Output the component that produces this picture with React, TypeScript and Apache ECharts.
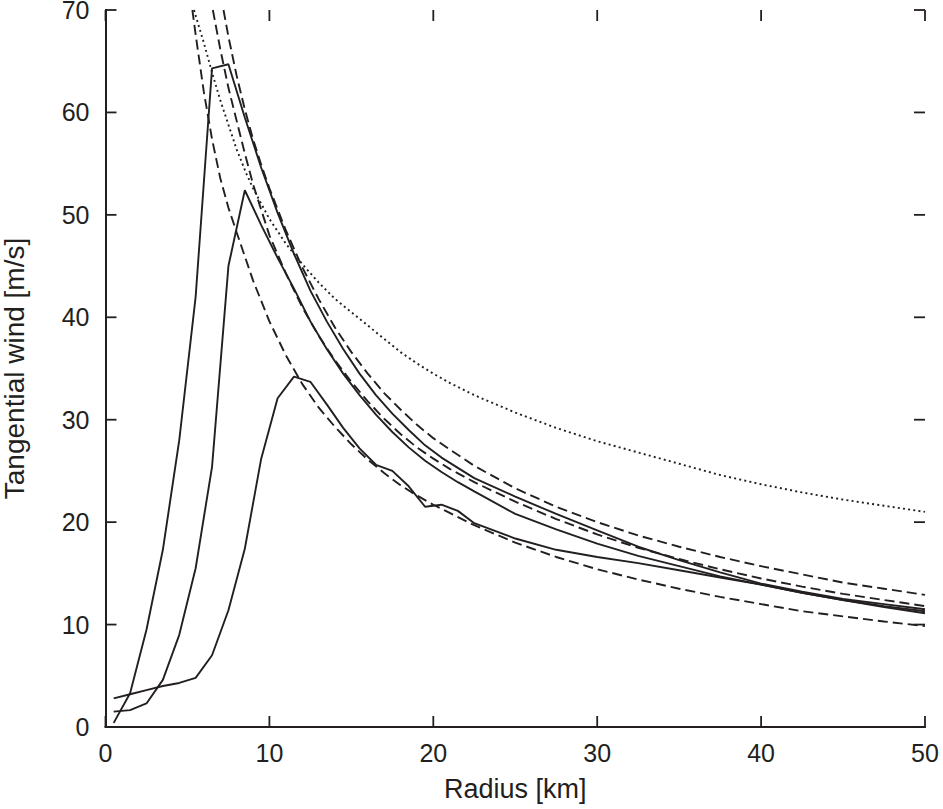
import { useEffect, useRef } from "react";
import * as echarts from "echarts";

// radius [km], tangential wind [m/s]
const simA = [
  [0.5, 0.4], [1.5, 3.3], [2.5, 9.5], [3.5, 17.3], [4.5, 28.0], [5.5, 42.0],
  [6.5, 64.3], [7.5, 64.7], [8.5, 59.5], [9.5, 54.6], [10.5, 50.2], [11.5, 46.2],
  [12.5, 42.6], [13.5, 39.6], [14.5, 36.9], [15.5, 34.5], [16.5, 32.4], [17.5, 30.6],
  [18.5, 29.0], [19.5, 27.5], [20.5, 26.3], [21.5, 25.3], [22.5, 24.3], [25, 22.5],
  [27.5, 20.8], [30, 19.2], [32.5, 17.6], [35, 16.3], [37.5, 15.1], [40, 14.0],
  [42.5, 13.2], [45, 12.5], [47.5, 12.0], [50, 11.5],
];
const simB = [
  [0.5, 1.5], [1.5, 1.65], [2.5, 2.3], [3.5, 4.6], [4.5, 9.0], [5.5, 15.5],
  [6.5, 25.4], [7.5, 45.0], [8.5, 52.4], [9.5, 49.0], [10.5, 45.8], [11.5, 42.8],
  [12.5, 39.6], [13.5, 36.9], [14.5, 34.5], [15.5, 32.4], [16.5, 30.5], [17.5, 28.8],
  [18.5, 27.3], [19.5, 26.0], [20.5, 24.9], [21.5, 23.9], [22.5, 23.0], [25, 20.8],
  [27.5, 19.3], [30, 17.9], [32.5, 16.7], [35, 15.7], [37.5, 14.7], [40, 13.9],
  [42.5, 13.1], [45, 12.4], [47.5, 11.8], [50, 11.3],
];
const simC = [
  [0.5, 2.8], [1.5, 3.2], [2.5, 3.6], [3.5, 4.0], [4.5, 4.3], [5.5, 4.8],
  [6.5, 7.0], [7.5, 11.4], [8.5, 17.4], [9.5, 26.2], [10.5, 32.1], [11.5, 34.2],
  [12.5, 33.7], [13.5, 31.5], [14.5, 29.2], [15.5, 27.2], [16.5, 25.6], [17.5, 25.0],
  [18.5, 23.5], [19.5, 21.5], [20.5, 21.7], [21.5, 21.1], [22.5, 19.9], [25, 18.4],
  [27.5, 17.3], [30, 16.6], [32.5, 16.0], [35, 15.3], [37.5, 14.6], [40, 13.9],
  [42.5, 13.1], [45, 12.4], [47.5, 11.7], [50, 11.1],
];
const fitLow = [
  [5.3, 70], [5.5, 67.6], [6, 62.0], [6.5, 57.4], [7, 53.6], [7.5, 50.7], [8, 48.3],
  [9, 43.6], [10, 39.6], [11, 36.3], [12, 33.5], [13, 31.2], [14, 29.3], [15, 27.6],
  [16, 26.1], [17, 24.8], [18, 23.6], [19, 22.6], [20, 21.7], [21, 20.9], [22.5, 19.7],
  [25, 18.0], [27.5, 16.6], [30, 15.4], [32.5, 14.4], [35, 13.5], [37.5, 12.7],
  [40, 12.0], [42.5, 11.3], [45, 10.8], [47.5, 10.3], [50, 9.85],
];
const fitMid = [
  [6.55, 70], [7, 66.2], [7.5, 62.4], [8, 59.2], [8.5, 56.0], [9, 53.0], [10, 48.0],
  [11, 44.3], [12, 41.0], [13, 38.2], [14, 35.8], [15, 33.7], [16, 31.8], [17, 30.1],
  [18, 28.6], [19, 27.3], [20, 26.2], [21, 25.2], [22.5, 23.9], [25, 22.0],
  [27.5, 20.3], [30, 18.8], [32.5, 17.5], [35, 16.4], [37.5, 15.4], [40, 14.5],
  [42.5, 13.7], [45, 13.0], [47.5, 12.4], [50, 11.8],
];
const fitHigh = [
  [7.2, 70], [7.5, 67.4], [8, 63.6], [8.5, 60.3], [9, 57.4], [9.5, 54.9], [10, 52.6],
  [11, 48.5], [12, 44.9], [13, 41.8], [14, 39.0], [15, 36.6], [16, 34.5], [17, 32.6],
  [18, 31.0], [19, 29.5], [20, 28.2], [21, 27.1], [22.5, 25.5], [25, 23.3],
  [27.5, 21.5], [30, 20.0], [32.5, 18.7], [35, 17.6], [37.5, 16.6], [40, 15.7],
  [42.5, 14.9], [45, 14.1], [47.5, 13.5], [50, 12.9],
];
const dotted = [
  [5.4, 70], [6, 66.8], [6.5, 63.9], [7, 61.2], [7.5, 58.8], [8, 56.4], [8.6, 54.0],
  [9, 52.6], [10, 49.6], [11, 47.2], [12, 45.2], [13, 43.4], [14, 41.8], [15, 40.5],
  [16, 39.2], [17, 37.9], [18, 36.6], [19, 35.5], [20, 34.5], [21, 33.6], [22.5, 32.4],
  [25, 30.7], [27.5, 29.2], [30, 27.9], [32.5, 26.8], [35, 25.7], [37.5, 24.6],
  [40, 23.7], [42.5, 22.9], [45, 22.2], [47.5, 21.6], [50, 21.0],
];

// tick positions on the frame
const xTicks = [0, 10, 20, 30, 40, 50];
const yTicks = [0, 10, 20, 30, 40, 50, 60, 70];

const INK = "#231f20";
const FONT = "Liberation Sans";
const TICK_LEN = 11;

export default function App() {
  const ref = useRef<HTMLDivElement>(null);

  useEffect(() => {
    const el = ref.current;
    if (!el) return;
    const chart = echarts.init(el, undefined, { renderer: "svg" });

    const frameLine = () => ({ show: true, lineStyle: { color: INK, width: 2 } });
    const label = { color: INK, fontSize: 25, fontFamily: FONT };
    const line = (data: number[][], type: any) => ({
      type: "line",
      data,
      showSymbol: false,
      symbol: "none",
      clip: true,
      lineStyle: { color: INK, width: type === "dotted" ? 2 : 1.9, type },
    });

    // axisTick.inside did not take, so the inward ticks are drawn here
    const tickData = [
      ...xTicks.map((v) => [0, v]),
      ...yTicks.map((v) => [1, v]),
    ];
    const tickStyle = { stroke: INK, lineWidth: 1.8 };

    chart.setOption({
      animation: false,
      backgroundColor: "#fff",
      grid: { left: 105.5, right: 18, top: 10, bottom: 82, outerBoundsMode: "none" },
      xAxis: [
        {
          type: "value",
          min: 0,
          max: 50,
          interval: 10,
          axisLine: frameLine(),
          axisTick: { show: false },
          axisLabel: { ...label, margin: 13 },
          splitLine: { show: false },
          name: "Radius [km]",
          nameLocation: "middle",
          nameGap: 48,
          nameTextStyle: { color: INK, fontSize: 27, fontFamily: FONT },
        },
        {
          type: "value",
          position: "top",
          min: 0,
          max: 50,
          interval: 10,
          axisLine: frameLine(),
          axisTick: { show: false },
          axisLabel: { show: false },
          splitLine: { show: false },
        },
      ],
      yAxis: [
        {
          type: "value",
          min: 0,
          max: 70,
          interval: 10,
          axisLine: frameLine(),
          axisTick: { show: false },
          axisLabel: { ...label, margin: 16 },
          splitLine: { show: false },
          name: "Tangential wind [m/s]",
          nameLocation: "middle",
          nameGap: 77,
          nameRotate: 90,
          nameTextStyle: { color: INK, fontSize: 28, fontFamily: FONT },
        },
        {
          type: "value",
          position: "right",
          min: 0,
          max: 70,
          interval: 10,
          axisLine: frameLine(),
          axisTick: { show: false },
          axisLabel: { show: false },
          splitLine: { show: false },
        },
      ],
      series: [
        line(dotted, [2, 3.2]),
        line(fitLow, [10, 5]),
        line(fitMid, [10, 5]),
        line(fitHigh, [10, 5]),
        line(simC, "solid"),
        line(simB, "solid"),
        line(simA, "solid"),
        {
          type: "custom",
          data: tickData,
          clip: false,
          silent: true,
          encode: { x: -1, y: -1 },
          renderItem: (_params: any, api: any) => {
            const axis = api.value(0);
            const v = api.value(1);
            if (axis === 0) {
              const lo = api.coord([v, 0]);
              const hi = api.coord([v, 70]);
              return {
                type: "group",
                children: [
                  { type: "line", shape: { x1: lo[0], y1: lo[1], x2: lo[0], y2: lo[1] - TICK_LEN }, style: tickStyle },
                  { type: "line", shape: { x1: hi[0], y1: hi[1], x2: hi[0], y2: hi[1] + TICK_LEN }, style: tickStyle },
                ],
              };
            }
            const l = api.coord([0, v]);
            const r = api.coord([50, v]);
            return {
              type: "group",
              children: [
                { type: "line", shape: { x1: l[0], y1: l[1], x2: l[0] + TICK_LEN, y2: l[1] }, style: tickStyle },
                { type: "line", shape: { x1: r[0], y1: r[1], x2: r[0] - TICK_LEN, y2: r[1] }, style: tickStyle },
              ],
            };
          },
        },
      ],
    });

    return () => chart.dispose();
  }, []);

  return (
    <div
      ref={ref}
      style={{ position: "absolute", left: 0, top: 0, width: 943, height: 809 }}
    />
  );
}
